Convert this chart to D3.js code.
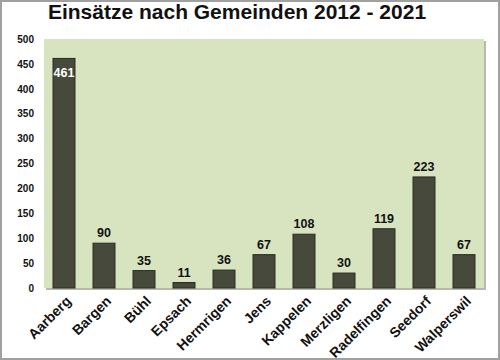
<!DOCTYPE html>
<html>
<head>
<meta charset="utf-8">
<script src="https://cdn.jsdelivr.net/npm/d3@7"></script>
<style>
  body { margin: 0; background: #fff; }
  svg { display: block; font-family: Arial, "Liberation Sans", sans-serif; }
</style>
</head>
<body>
<svg id="chart" width="500" height="360"></svg>
<script>
var gemeinden = ['Aarberg', 'Bargen', 'Bühl', 'Epsach', 'Hermrigen', 'Jens', 'Kappelen', 'Merzligen', 'Radelfingen', 'Seedorf', 'Walperswil'];
var einsaetze = [461, 90, 35, 11, 36, 67, 108, 30, 119, 223, 67];
var yTicks = [0, 50, 100, 150, 200, 250, 300, 350, 400, 450, 500];

var data = gemeinden.map(function(g, i) { return {name: g, value: einsaetze[i]}; });

var svg = d3.select('#chart'),
	margin = {top: 39, right: 16, bottom: 72, left: 44},
	width = +svg.attr('width') - margin.left - margin.right,
	height = +svg.attr('height') - margin.top - margin.bottom;

// frame round the picture
svg.append('rect')
	.attr('x', 1).attr('y', 1)
	.attr('width', 498).attr('height', 358)
	.attr('fill', 'none')
	.attr('stroke', '#a0a0a0')
	.attr('stroke-width', 2);

svg.append('text')
	.attr('x', 237)
	.attr('y', 19)
	.attr('text-anchor', 'middle')
	.attr('font-size', 21)
	.attr('font-weight', 'bold')
	.attr('fill', '#111')
	.text('Einsätze nach Gemeinden 2012 - 2021');

var x = d3.scaleBand().range([0, width]).domain(gemeinden).paddingInner(0.45).paddingOuter(0.225),
	y = d3.scaleLinear().range([height, 0]).domain([0, 500]);

var g = svg.append('g')
	.attr('transform', 'translate(' + margin.left + ',' + margin.top + ')');

// plot area with a soft shadow at right and bottom
g.append('rect')
	.attr('x', 2).attr('y', 2)
	.attr('width', width).attr('height', height)
	.attr('fill', '#b8b8b0');
g.append('rect')
	.attr('width', width).attr('height', height)
	.attr('fill', '#d8e4c0');

var yAxis = g.append('g')
	.call(d3.axisLeft(y).tickValues(yTicks).tickSize(0).tickPadding(10));
yAxis.select('.domain').remove();
yAxis.selectAll('text')
	.attr('font-size', 10)
	.attr('font-weight', 'bold')
	.attr('font-family', 'Arial, "Liberation Sans", sans-serif')
	.attr('fill', '#111');

var xAxis = g.append('g')
	.attr('transform', 'translate(0,' + height + ')')
	.call(d3.axisBottom(x).tickSize(0).tickPadding(0));
xAxis.select('.domain').remove();
xAxis.selectAll('text')
	.attr('font-size', 14)
	.attr('font-weight', 'bold')
	.attr('font-family', 'Arial, "Liberation Sans", sans-serif')
	.attr('fill', '#111')
	.attr('text-anchor', 'end')
	.attr('dy', 0)
	.attr('transform', 'translate(8,14) rotate(-45)');

g.selectAll('.bar')
	.data(data)
	.enter().append('rect')
	.attr('class', 'bar')
	.attr('x', function(d) { return x(d.name); })
	.attr('y', function(d) { return y(d.value); })
	.attr('width', x.bandwidth())
	.attr('height', function(d) { return height - y(d.value); })
	.attr('fill', '#46493b')
	.attr('stroke', '#2b2c22')
	.attr('stroke-width', 1);

g.selectAll('.label')
	.data(data)
	.enter().append('text')
	.attr('class', 'label')
	.attr('x', function(d) { return x(d.name) + x.bandwidth() / 2; })
	.attr('y', function(d) { return d.value > 400 ? y(d.value) + 19 : y(d.value) - 6; })
	.attr('text-anchor', 'middle')
	.attr('font-size', 12.5)
	.attr('font-weight', 'bold')
	.attr('fill', function(d) { return d.value > 400 ? '#fff' : '#111'; })
	.text(function(d) { return d.value; });
</script>
</body>
</html>
